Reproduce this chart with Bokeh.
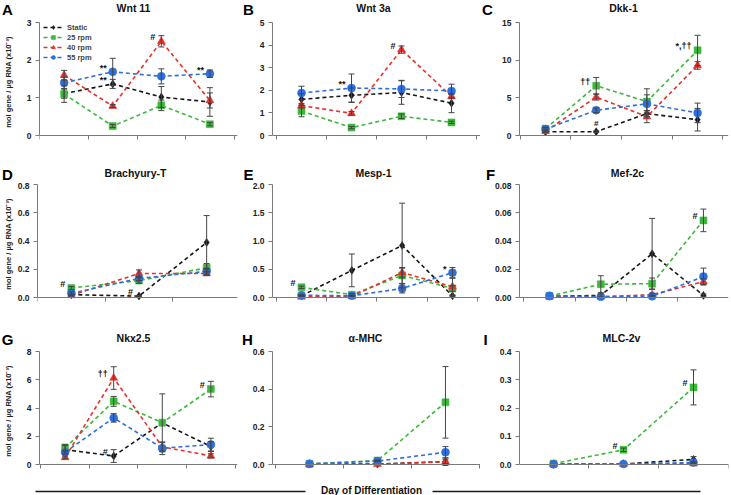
from bokeh.plotting import figure
from bokeh.layouts import column, row
from bokeh.models import (Range1d, FixedTicker, ColumnDataSource, Whisker, TeeHead,
                          Legend, LegendItem)
from bokeh.core.properties import value
from bokeh.embed import file_html
from bokeh.resources import INLINE

# ---------------------------------------------------------------- data
SERIES = ["Static", "25 rpm", "40 rpm", "55 rpm"]
Y_LABEL = "mol gene / µg RNA (x10⁻³)"
X_LABEL = "Day of Differentiation"

# A  Wnt 11
wnt11_days = ["2", "4", "6", "8"]
wnt11_mean = [[1.11, 1.37, 1.02, 0.89],
              [1.10, 0.25, 0.80, 0.30],
              [1.60, 0.78, 2.50, 0.93],
              [1.40, 1.69, 1.57, 1.64]]
wnt11_err = [[0.12, 0.12, 0.28, 0.38],
             [0.22, 0.04, 0.14, 0.04],
             [0.13, 0.04, 0.15, 0.20],
             [0.15, 0.36, 0.20, 0.10]]
wnt11_ticks = [0, 1, 2, 3]
wnt11_ticklabels = ["0", "1", "2", "3"]
wnt11_marks = [("**", 3, 1), ("**", 0, 1), ("#", 2, 2), ("**", 3, 3)]

# B  Wnt 3a
wnt3a_days = ["2", "4", "6", "8"]
wnt3a_mean = [[1.60, 1.78, 1.90, 1.43],
              [1.08, 0.35, 0.85, 0.58],
              [1.32, 0.98, 3.80, 1.73],
              [1.88, 2.10, 2.06, 1.97]]
wnt3a_err = [[0.25, 0.32, 0.52, 0.42],
             [0.25, 0.05, 0.10, 0.05],
             [0.10, 0.08, 0.16, 0.10],
             [0.30, 0.62, 0.38, 0.30]]
wnt3a_ticks = [0, 1, 2, 3, 4, 5]
wnt3a_ticklabels = ["0", "1", "2", "3", "4", "5"]
wnt3a_marks = [("**", 3, 1), ("#", 2, 2)]

# C  Dkk-1
dkk1_days = ["2", "4", "6", "8"]
dkk1_mean = [[0.50, 0.50, 2.90, 2.10],
             [0.90, 6.60, 4.50, 11.30],
             [0.55, 5.10, 2.50, 9.30],
             [0.85, 3.35, 4.20, 3.00]]
dkk1_err = [[0.10, 0.10, 0.40, 1.50],
            [0.20, 1.10, 1.70, 2.00],
            [0.10, 0.40, 0.80, 0.50],
            [0.15, 0.30, 1.20, 1.30]]
dkk1_ticks = [0, 5, 10, 15]
dkk1_ticklabels = ["0", "5", "10", "15"]
dkk1_marks = [("††", 1, 1), ("#", 0, 1, "above"), ("*,††", 1, 3)]

# D  Brachyury-T
brachy_days = ["2", "4", "6"]
brachy_mean = [[0.020, 0.010, 0.390],
               [0.067, 0.120, 0.210],
               [0.015, 0.170, 0.170],
               [0.030, 0.135, 0.185]]
brachy_err = [[0.005, 0.005, 0.190],
              [0.010, 0.020, 0.030],
              [0.005, 0.025, 0.015],
              [0.010, 0.015, 0.020]]
brachy_ticks = [0, 0.2, 0.4, 0.6, 0.8]
brachy_ticklabels = ["0.0", "0.2", "0.4", "0.6", "0.8"]
brachy_marks = [("#", 1, 0), ("#", 0, 1)]

# E  Mesp-1
mesp1_days = ["4", "6", "8", "10"]
mesp1_mean = [[0.03, 0.48, 0.92, 0.03],
              [0.18, 0.05, 0.39, 0.16],
              [0.01, 0.02, 0.44, 0.19],
              [0.04, 0.03, 0.16, 0.44]]
mesp1_err = [[0.01, 0.29, 0.75, 0.01],
             [0.02, 0.02, 0.14, 0.05],
             [0.00, 0.01, 0.08, 0.15],
             [0.01, 0.01, 0.08, 0.09]]
mesp1_ticks = [0, 0.5, 1.0, 1.5, 2.0]
mesp1_ticklabels = ["0.0", "0.5", "1.0", "1.5", "2.0"]
mesp1_marks = [("#", 1, 0), ("*", 3, 3)]

# F  Mef-2c
mef2c_days = ["4", "6", "8", "10"]
mef2c_mean = [[0.0008, 0.0015, 0.0310, 0.0015],
              [0.0010, 0.0094, 0.0098, 0.0546],
              [0.0005, 0.0005, 0.0020, 0.0112],
              [0.0012, 0.0006, 0.0008, 0.0148]]
mef2c_err = [[0.0, 0.0010, 0.0250, 0.0010],
             [0.0, 0.0060, 0.0040, 0.0080],
             [0.0, 0.0, 0.0010, 0.0020],
             [0.0, 0.0, 0.0005, 0.0060]]
mef2c_ticks = [0, 0.02, 0.04, 0.06, 0.08]
mef2c_ticklabels = ["0.00", "0.02", "0.04", "0.06", "0.08"]
mef2c_marks = [("#", 1, 3)]

# G  Nkx2.5
nkx25_days = ["4", "6", "8", "10"]
nkx25_mean = [[1.05, 0.60, 2.95, 1.27],
              [1.18, 4.47, 2.96, 5.34],
              [0.50, 6.12, 1.25, 0.61],
              [0.87, 3.30, 1.15, 1.41]]
nkx25_err = [[0.30, 0.45, 2.05, 0.35],
             [0.25, 0.35, 0.00, 0.55],
             [0.10, 0.80, 0.30, 0.15],
             [0.10, 0.30, 0.45, 0.45]]
nkx25_ticks = [0, 2, 4, 6, 8]
nkx25_ticklabels = ["0", "2", "4", "6", "8"]
nkx25_marks = [("††", 2, 1), ("#", 0, 1), ("#", 1, 3)]

# H  alpha-MHC
amhc_days = ["6", "8", "10"]
amhc_mean = [[0.002, 0.002, 0.015],
             [0.003, 0.021, 0.330],
             [0.001, 0.001, 0.015],
             [0.004, 0.018, 0.065]]
amhc_err = [[0.0, 0.0, 0.020],
            [0.0, 0.003, 0.190],
            [0.0, 0.0, 0.010],
            [0.0, 0.003, 0.030]]
amhc_ticks = [0, 0.2, 0.4, 0.6]
amhc_ticklabels = ["0.0", "0.2", "0.4", "0.6"]
amhc_marks = []

# I  MLC-2v
mlc2v_days = ["6", "8", "10"]
mlc2v_mean = [[0.001, 0.002, 0.018],
              [0.003, 0.052, 0.273],
              [0.001, 0.001, 0.003],
              [0.001, 0.002, 0.007]]
mlc2v_err = [[0.0, 0.0, 0.010],
             [0.0, 0.006, 0.062],
             [0.0, 0.0, 0.002],
             [0.0, 0.0, 0.003]]
mlc2v_ticks = [0, 0.1, 0.2, 0.3, 0.4]
mlc2v_ticklabels = ["0.0", "0.1", "0.2", "0.3", "0.4"]
mlc2v_marks = [("#", 1, 1), ("#", 1, 2)]

PANELS = [
    ("A", "Wnt 11", wnt11_days, wnt11_mean, wnt11_err, wnt11_ticks, wnt11_ticklabels, wnt11_marks),
    ("B", "Wnt 3a", wnt3a_days, wnt3a_mean, wnt3a_err, wnt3a_ticks, wnt3a_ticklabels, wnt3a_marks),
    ("C", "Dkk-1", dkk1_days, dkk1_mean, dkk1_err, dkk1_ticks, dkk1_ticklabels, dkk1_marks),
    ("D", "Brachyury-T", brachy_days, brachy_mean, brachy_err, brachy_ticks, brachy_ticklabels, brachy_marks),
    ("E", "Mesp-1", mesp1_days, mesp1_mean, mesp1_err, mesp1_ticks, mesp1_ticklabels, mesp1_marks),
    ("F", "Mef-2c", mef2c_days, mef2c_mean, mef2c_err, mef2c_ticks, mef2c_ticklabels, mef2c_marks),
    ("G", "Nkx2.5", nkx25_days, nkx25_mean, nkx25_err, nkx25_ticks, nkx25_ticklabels, nkx25_marks),
    ("H", "α-MHC", amhc_days, amhc_mean, amhc_err, amhc_ticks, amhc_ticklabels, amhc_marks),
    ("I", "MLC-2v", mlc2v_days, mlc2v_mean, mlc2v_err, mlc2v_ticks, mlc2v_ticklabels, mlc2v_marks),
]

# ---------------------------------------------------------------- style / layout
FONT = "Liberation Sans"
COLORS = ["#161616", "#3DB83A", "#E8302A", "#2E6FDB"]
MARKERS = ["diamond", "square", "triangle", "circle"]
MSIZE = [8, 7, 8, 8]
ERR_COLOR = "#454545"
AXIS_COLOR = "#7a7a7a"

COL_W = [240, 240, 251]
TOTAL_W = sum(COL_W)
FRAME_L = [36, 32, 39]
FRAME_W = [201, 208, 209]
ROW_H = 165
HEAD_H = [17, 17, 17]      # header strip (letters + titles) above each row of panels
FRAME_T = [22, 19, 21]     # frame top measured from the row top
ZERO_H = 113               # px between y-max and zero
BELOW_PAD = 6              # px of frame below the zero line
# x-range of each panel (category i sits at i+1)
XR = {"A": (0.493, 4.568), "B": (0.42, 4.58), "C": (0.487, 4.61),
      "D": (0.50, 3.456), "E": (0.424, 4.557), "F": (0.416, 4.488),
      "G": (0.473, 4.548), "H": (0.456, 3.515), "I": (0.514, 3.50)}
TITLE_X = [133, 373, 623, 135, 373, 627, 133, 365, 621]   # page px
LETTER_X = [7, 248, 487, 7, 248, 490, 7, 247, 485]         # page px
TITLE_Y = 7.5              # px below strip top
LETTER_Y = 8.5
YLABEL_STANDOFF = {"A": 11, "D": 2, "G": 11}


def make_panel(idx, letter, title, days, mean, err, ticks, ticklabels, marks):
    r, c = divmod(idx, 3)
    ymax = ticks[-1]
    pad = ymax * BELOW_PAD / ZERO_H
    frame_h = ZERO_H + BELOW_PAD
    fig_h = ROW_H - HEAD_H[r]
    top = FRAME_T[r] - HEAD_H[r]
    xr = XR[letter]
    p = figure(width=COL_W[c], height=fig_h, title=None,
               x_range=Range1d(*xr), y_range=Range1d(-pad, ymax),
               output_backend="svg", toolbar_location=None,
               min_border_left=FRAME_L[c], min_border_right=COL_W[c] - FRAME_L[c] - FRAME_W[c],
               min_border_top=top, min_border_bottom=fig_h - top - frame_h)
    p.outline_line_color = None
    p.xgrid.visible = False
    p.ygrid.visible = False
    p.background_fill_color = "white"
    p.border_fill_color = "white"

    n = len(days)
    xs = list(range(1, n + 1))
    xa = p.xaxis[0]
    xa.ticker = FixedTicker(ticks=xs, minor_ticks=[k + 0.5 for k in range(n + 1)])
    xa.major_label_overrides = {x: d for x, d in zip(xs, days)}
    xa.fixed_location = 0
    xa.major_tick_line_color = None
    xa.major_tick_out = 0
    xa.major_tick_in = 0
    xa.minor_tick_out = 4
    xa.minor_tick_in = 0
    xa.minor_tick_line_color = AXIS_COLOR
    xa.axis_line_color = AXIS_COLOR
    xa.major_label_standoff = 6
    ya = p.yaxis[0]
    ya.ticker = FixedTicker(ticks=ticks, minor_ticks=[])
    ya.major_label_overrides = {t: s for t, s in zip(ticks, ticklabels)}
    ya.bounds = (0, ymax)
    ya.major_tick_out = 4
    ya.major_tick_in = 0
    ya.major_tick_line_color = AXIS_COLOR
    ya.axis_line_color = AXIS_COLOR
    ya.major_label_standoff = 4
    for ax in (xa, ya):
        ax.major_label_text_font = FONT
        ax.major_label_text_font_style = "bold"
        ax.major_label_text_font_size = "8.5px"
        ax.major_label_text_color = "#222222"
    if c == 0:
        ya.axis_label = Y_LABEL
        ya.axis_label_text_font = FONT
        ya.axis_label_text_font_style = "bold"
        ya.axis_label_text_font_size = "7.5px"
        ya.axis_label_text_color = "#222222"
        ya.axis_label_standoff = YLABEL_STANDOFF[letter]

    items = []
    for s in range(4):
        ys = mean[s]
        line_r = p.line(xs, ys, line_color=COLORS[s], line_width=1.6, line_dash="4 3")
        e = err[s]
        bx = [x for x, v in zip(xs, e) if v > 0]
        lo = [m - v for m, v in zip(ys, e) if v > 0]
        hi = [m + v for m, v in zip(ys, e) if v > 0]
        if bx:
            src = ColumnDataSource(dict(x=bx, lo=lo, hi=hi))
            w = Whisker(source=src, base="x", lower="lo", upper="hi",
                        line_color=ERR_COLOR, line_width=1, level="glyph",
                        upper_head=TeeHead(size=6, line_color=ERR_COLOR, line_width=1),
                        lower_head=TeeHead(size=6, line_color=ERR_COLOR, line_width=1))
            p.add_layout(w)
        items.append((s, line_r))
    mark_r = {}
    for s in range(4):
        mark_r[s] = p.scatter(xs, mean[s], marker=MARKERS[s], size=MSIZE[s],
                              fill_color=COLORS[s], line_color=COLORS[s], line_width=0.5)

    for mk in marks:
        txt, s, d = mk[0], mk[1], mk[2]
        where = mk[3] if len(mk) > 3 else "left"
        if where == "left":
            p.text([xs[d]], [mean[s][d]], text=[txt], text_align="right", text_baseline="middle",
                   x_offset=-6, y_offset=-4, text_font=value(FONT), text_font_style="bold",
                   text_font_size="9px", text_color="#111111")
        else:
            p.text([xs[d]], [mean[s][d]], text=[txt], text_align="center", text_baseline="bottom",
                   x_offset=0, y_offset=-4, text_font=value(FONT), text_font_style="bold",
                   text_font_size="8px", text_color="#111111")

    if letter == "A":
        leg = Legend(items=[LegendItem(label=SERIES[s], renderers=[lr, mark_r[s]]) for s, lr in items],
                     location=(4, frame_h - 40))
        leg.label_text_font = FONT
        leg.label_text_font_style = "bold"
        leg.label_text_font_size = "7.5px"
        leg.glyph_width = 20
        leg.glyph_height = 10
        leg.label_height = 10
        leg.label_standoff = 4
        leg.spacing = 0
        leg.padding = 0
        leg.margin = 0
        leg.border_line_color = None
        leg.background_fill_alpha = 0
        p.add_layout(leg)
    return p


def make_header(r):
    h = HEAD_H[r]
    f = figure(width=TOTAL_W, height=h, title=None, x_range=Range1d(0, TOTAL_W),
               y_range=Range1d(0, h), x_axis_type=None, y_axis_type=None,
               output_backend="svg", toolbar_location=None, min_border=0)
    f.outline_line_color = None
    f.xgrid.visible = False
    f.ygrid.visible = False
    f.background_fill_color = "white"
    f.border_fill_color = "white"
    ids = range(r * 3, r * 3 + 3)
    f.text([TITLE_X[i] for i in ids], [h - TITLE_Y] * 3, text=[PANELS[i][1] for i in ids],
           text_align="center", text_baseline="middle", text_font=value(FONT),
           text_font_style="bold", text_font_size="10.5px", text_color="#111111")
    f.text([LETTER_X[i] for i in ids], [h - LETTER_Y] * 3, text=[PANELS[i][0] for i in ids],
           text_align="center", text_baseline="middle", text_font=value(FONT),
           text_font_style="bold", text_font_size="15px", text_color="#000000")
    return f


figs = [make_panel(i, *pan) for i, pan in enumerate(PANELS)]
parts = []
for k in range(3):
    parts.append(make_header(k))
    parts.append(row(*figs[k * 3:(k + 1) * 3]))

# bottom strip: "Day of Differentiation" between two rules (overlaps the last row's margin)
STRIP_H = 14
RULE_Y = 4
LEFT_RULE = (35, 305)
RIGHT_RULE = (432, 700)
TEXT_X = 371
bottom = figure(width=TOTAL_W, height=STRIP_H, title=None, x_range=Range1d(0, TOTAL_W),
                y_range=Range1d(0, STRIP_H), x_axis_type=None, y_axis_type=None,
                output_backend="svg", toolbar_location=None, min_border=0,
                margin=(-STRIP_H, 0, 0, 0))
bottom.outline_line_color = None
bottom.xgrid.visible = False
bottom.ygrid.visible = False
bottom.background_fill_alpha = 0
bottom.border_fill_alpha = 0
bottom.line(list(LEFT_RULE), [RULE_Y, RULE_Y], line_color="#1a1a1a", line_width=1.6)
bottom.line(list(RIGHT_RULE), [RULE_Y, RULE_Y], line_color="#1a1a1a", line_width=1.6)
bottom.text([TEXT_X], [5], text=[X_LABEL], text_align="center", text_baseline="middle",
            text_font=value(FONT), text_font_style="bold", text_font_size="10px",
            text_color="#111111")
parts.append(bottom)

layout = column(*parts)

open("out.html", "w").write(file_html(layout, INLINE))
